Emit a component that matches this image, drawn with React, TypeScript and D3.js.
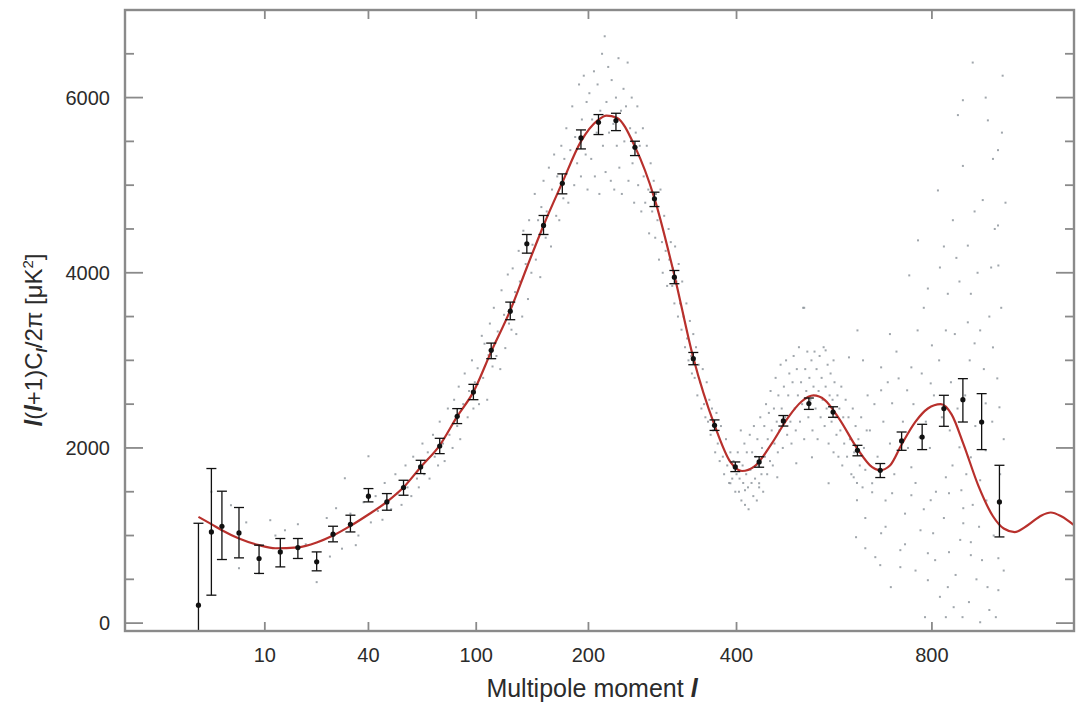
import React from "react";
import * as d3 from "d3";

// ---- data ----
const xTicks = [10, 40, 100, 200, 400, 800];
const yMajorTicks = [0, 2000, 4000, 6000];
const yMinorTicks = [500, 1000, 1500, 2500, 3000, 3500, 4500, 5000, 5500, 6500];

// theory curve (l, value)
const curveL = [2, 3, 4, 6, 9, 12, 17, 22, 27, 33, 40, 48, 56, 65, 76, 87, 98, 111, 126, 140, 155, 173, 192, 210, 220, 232, 254, 279, 306, 333, 365, 390, 409, 430, 460, 490, 515, 538, 560, 590, 628, 660, 677, 700, 727, 760, 790, 822, 850, 880, 920, 960, 990, 1021, 1060, 1100, 1128, 1160, 1200];
const curveV = [1213, 1130, 1061, 966, 890, 855, 865, 920, 1000, 1110, 1240, 1384, 1550, 1780, 2030, 2360, 2640, 3100, 3570, 4060, 4540, 5030, 5500, 5740, 5795, 5770, 5440, 4850, 3970, 3030, 2260, 1840, 1737, 1790, 2050, 2350, 2530, 2600, 2550, 2330, 1990, 1780, 1745, 1800, 2040, 2300, 2450, 2500, 2380, 2050, 1570, 1220, 1080, 1040, 1120, 1230, 1263, 1220, 1118];

// binned data points with error bars
const binL = [2, 3, 4, 6, 9, 13, 17, 22, 27, 33, 40, 48, 56, 65, 76, 87, 98, 111, 126, 140, 155, 173, 192, 211, 231, 254, 279, 306, 333, 365, 398, 438, 481, 529, 577, 628, 678, 727, 776, 830, 879, 929, 978];
const binV = [205, 1041, 1106, 1030, 738, 813, 863, 700, 1015, 1129, 1449, 1384, 1547, 1783, 2022, 2361, 2638, 3114, 3562, 4331, 4540, 5022, 5540, 5718, 5737, 5433, 4844, 3950, 3019, 2258, 1783, 1840, 2308, 2506, 2410, 1973, 1745, 2080, 2125, 2449, 2551, 2296, 1384];
const binHi = [1140, 1765, 1506, 1320, 890, 966, 966, 813, 1106, 1232, 1536, 1479, 1631, 1859, 2110, 2449, 2726, 3197, 3665, 4437, 4654, 5129, 5631, 5806, 5821, 5502, 4920, 4026, 3090, 2320, 1840, 1900, 2370, 2570, 2470, 2030, 1822, 2182, 2270, 2601, 2791, 2620, 1802];
const binLo = [-300, 319, 726, 745, 567, 642, 738, 597, 928, 1041, 1384, 1289, 1460, 1707, 1935, 2278, 2551, 3019, 3464, 4224, 4437, 4901, 5414, 5578, 5623, 5338, 4756, 3875, 2950, 2200, 1730, 1780, 2250, 2440, 2350, 1910, 1662, 1973, 1981, 2247, 2296, 1981, 984];

// unbinned individual multipoles (l, value)
const scatterLow: [number, number][] = [
  [5, 1346], [6, 627], [9, 570], [11, 1175], [17, 1129], [22, 468], [28, 1312], [31, 1654], [35, 890], [40, 1905],
  [3, 1500], [7, 1150], [12, 1000], [14, 1060], [19, 900], [25, 1200], [26, 760], [30, 850],
];
const scatterMid1: [number, number][] = [
  [33, 1250], [36, 1000], [38, 1380], [41, 1150], [43, 1450], [44, 1280], [46, 1180], [47, 1600], [49, 1400], [50, 1300],
  [52, 1700], [53, 1480], [55, 1350], [57, 1800], [58, 1550], [60, 1450], [61, 1900], [63, 1650], [64, 1550], [66, 2050],
  [67, 1700], [69, 1950], [70, 1650], [72, 2150], [73, 1900], [75, 1800], [76, 2300], [78, 2050], [79, 1850], [81, 2450],
  [82, 2150], [84, 2000], [85, 2550], [87, 2250], [88, 2700], [89, 2100], [91, 2500], [92, 2850], [94, 2350], [95, 2650],
  [97, 3000], [98, 2450], [99, 2750],
];
const scatterMid2: [number, number][] = [
  [101, 2910], [102, 2500], [104, 3280], [105, 2800], [106, 3190], [108, 2550], [109, 3060], [110, 3420], [112, 2930], [113, 3600],
  [115, 3050], [116, 3330], [118, 2900], [119, 3800], [121, 3520], [122, 3140], [124, 3980], [125, 3420], [127, 3350], [128, 4050],
  [130, 3780], [131, 3300], [133, 4250], [134, 3900], [136, 3500], [137, 4480], [139, 4100], [141, 3700], [142, 4600], [144, 4000],
  [145, 4320], [147, 4900], [148, 4150], [150, 4600], [152, 3950], [153, 4750], [155, 5050], [157, 4400], [158, 4700], [160, 5200],
  [162, 4300], [163, 4950], [165, 5350], [167, 4650], [168, 5100], [170, 4600], [172, 5450], [174, 4850], [175, 5300], [177, 5650],
  [179, 4800], [181, 5400], [183, 5900], [185, 5000], [186, 5550], [188, 5250], [190, 6150], [192, 5100], [193, 5750], [195, 6250],
  [197, 5350], [198, 5950], [199, 4950],
];
const scatterPeak: [number, number][] = [
  [201, 6050], [203, 5300], [204, 5750], [206, 6300], [207, 5100], [209, 5600], [210, 6150], [212, 4900], [213, 5850], [215, 6500],
  [216, 5450], [218, 6700], [219, 5150], [220, 5950], [222, 6350], [223, 5600], [225, 5050], [226, 6200], [228, 5700], [229, 4950],
  [231, 6000], [232, 5450], [234, 6450], [235, 5200], [237, 5850], [238, 4900], [240, 6100], [241, 5500], [243, 5900], [245, 6400],
  [246, 5050], [248, 5650], [250, 6000], [251, 5250], [253, 4800], [255, 5600], [257, 5900], [258, 5000], [260, 5450], [262, 4700],
  [264, 5650], [265, 5100], [267, 4800], [269, 5450], [271, 4950], [272, 4450], [274, 5250], [276, 4700], [278, 5050], [280, 4400],
  [281, 4900], [283, 4600], [285, 4150], [287, 4950], [289, 4350], [290, 4000], [292, 4650], [294, 4250], [296, 3850], [298, 4500],
  [299, 4150],
];
const scatterFall: [number, number][] = [
  [301, 4350], [303, 3850], [304, 4050], [306, 3650], [307, 4300], [309, 3900], [311, 3500], [312, 4100], [314, 3650], [316, 3350],
  [317, 3900], [319, 3500], [321, 3150], [323, 3650], [324, 3250], [326, 3000], [328, 3450], [330, 3050], [331, 2850], [333, 3300],
  [335, 2800], [337, 3150], [339, 2600], [341, 2950], [343, 2750], [345, 2450], [347, 2900], [349, 2500], [351, 2350], [353, 2750],
  [355, 2300], [357, 2550], [359, 2150], [361, 2450], [363, 2200], [366, 1950], [368, 2400], [370, 2050], [373, 1850], [375, 2250],
  [378, 1900], [380, 1700], [383, 2100], [385, 1800], [388, 1600], [390, 1950], [393, 1650], [395, 1850], [398, 1500], [400, 1700],
];
const scatterSecond: [number, number][] = [
  [402, 1950], [404, 1500], [405, 1650], [407, 2200], [408, 1400], [410, 1800], [411, 1600], [413, 2050], [414, 1350], [416, 1700],
  [417, 1950], [419, 1550], [420, 1300], [422, 2150], [423, 1750], [425, 1600], [426, 1950], [428, 1450], [429, 2250], [431, 1650],
  [432, 1900], [434, 1400], [435, 2100], [437, 1800], [438, 1550], [440, 2350], [442, 1700], [443, 2000], [445, 1500], [447, 2250],
  [448, 1900], [450, 2500], [452, 1700], [453, 2100], [455, 2400], [457, 1850], [458, 2650], [460, 2200], [462, 1800], [464, 2450],
  [465, 2050], [467, 2800], [469, 2300], [471, 1950], [472, 2600], [474, 2200], [476, 2950], [478, 2450], [480, 2000], [482, 2700],
  [484, 2350], [486, 3000], [488, 2150], [490, 2600], [492, 2850], [494, 2300], [496, 2050], [498, 2750], [500, 3050], [502, 2450],
  [504, 2200], [506, 2900], [508, 2600], [510, 3150], [512, 2300], [514, 2750], [516, 2500], [518, 3600], [520, 2100], [522, 2900],
  [524, 2650], [526, 3100], [528, 2350], [530, 2800], [532, 2550], [534, 3000], [536, 2200], [538, 2700], [540, 3100], [542, 2450],
  [544, 2900], [546, 2100], [548, 2650], [550, 3050], [552, 2350], [554, 2800], [556, 2550], [558, 3150], [560, 2250], [562, 2700],
  [564, 2450], [566, 2950], [568, 2050], [570, 2600], [572, 2850], [574, 2300], [576, 2550], [578, 1950], [580, 2750], [582, 2350],
  [584, 2150], [586, 2600], [588, 1900], [590, 2450], [592, 2200], [594, 2700], [596, 1800], [598, 2350], [600, 2050], [603, 2550],
  [606, 1900], [609, 2350], [612, 2100], [615, 1700], [618, 2450], [621, 1950], [624, 2250], [627, 1600], [630, 2100], [633, 1800],
  [636, 2350], [639, 1550], [642, 2000], [645, 1750], [648, 2200],
  [562, 3114], [578, 3000], [520, 3600], [610, 3034], [568, 1597], [535, 1893], [505, 1825], [470, 1665], [438, 1597], [414, 1517], [390, 1597],
];
const scatterHigh: [number, number][] = [
  [627, 1403], [660, 1494], [705, 1483], [750, 1460], [797, 1403], [843, 1483], [880, 1312], [645, 855], [667, 753], [678, 662],
  [724, 833], [702, 411], [790, 490], [840, 411], [855, 182], [878, 68], [925, 10], [968, 68], [945, 411], [975, 376],
  [895, 240], [835, 68], [783, 68], [808, 719], [843, 810], [724, 639], [790, 798], [900, 776], [930, 719], [975, 741],
  [900, 924], [880, 1140], [803, 1026], [772, 1060], [680, 1026], [625, 981],
  [745, 3970], [790, 3820], [820, 4060], [840, 3760], [862, 4170], [900, 3760], [955, 4060], [975, 4083], [892, 3434], [925, 3342],
  [960, 3148], [972, 2794], [940, 2509], [978, 2464], [910, 3194], [765, 3342], [800, 3171], [835, 3342], [750, 2920], [720, 2794],
  [680, 2920], [640, 3000], [628, 3342], [680, 2658], [705, 2510], [740, 2658], [797, 2737], [770, 2120], [845, 2200], [870, 2007],
  [900, 1893], [940, 1973], [925, 1631], [875, 1517], [835, 1665], [750, 1779], [660, 1597], [620, 1665],
  [905, 6400], [987, 6250], [866, 5800], [946, 5740], [974, 5400], [879, 5220], [815, 4940], [932, 4830], [853, 4600], [974, 4540],
  [766, 4370], [892, 4310], [879, 5970],
  [655, 2200], [665, 2500], [672, 1900], [685, 2300], [690, 1400], [695, 2750], [700, 2050], [710, 1700], [715, 3100], [730, 2300],
  [735, 1250], [742, 2000], [755, 2500], [760, 1600], [775, 2850], [780, 1300], [785, 2300], [795, 2000], [805, 2600], [810, 1500],
  [818, 3000], [825, 2350], [830, 1200], [848, 2750], [852, 1800], [858, 3300], [865, 2450], [872, 950], [885, 2600], [888, 1700],
  [897, 3000], [905, 1350], [912, 2250], [918, 4000], [922, 1100], [935, 2900], [942, 1400], [950, 3500], [958, 2300], [962, 1000],
  [965, 4500], [980, 1700], [983, 3600], [990, 2100], [995, 4800], [960, 5300], [940, 6000], [985, 5600], [910, 4700], [870, 3900],
  [830, 4300], [780, 3600], [700, 3300], [650, 2600], [645, 1200], [690, 1100], [735, 900], [760, 600], [820, 300], [860, 550],
  [915, 500], [950, 150], [990, 600],
];

const scatter = [...scatterLow, ...scatterMid1, ...scatterMid2, ...scatterPeak, ...scatterFall, ...scatterSecond, ...scatterHigh];

export default function App() {
  const W = 1080, H = 718;
  const x = d3.scalePow().exponent(0.4).domain([0, 1200]).range([125, 1074]);
  const y = d3.scaleLinear().domain([-90, 7000]).range([631, 10]);
  const [x0, x1] = x.range();
  const [y0, y1] = y.range();

  const line = d3.line<[number, number]>()
    .x((d) => x(d[0]))
    .y((d) => y(d[1]))
    .curve(d3.curveMonotoneX);
  const curvePts = curveL.map((l, i) => [l, curveV[i]] as [number, number]);

  const frame = "#8a8a8a";
  const txt = "#2b2b2b";
  const font = "Liberation Sans, Arial, Helvetica, sans-serif";

  return (
    <svg width={W} height={H} style={{ position: "absolute", left: 0, top: 0, background: "#fff" }} fontFamily={font}>
      <defs>
        <clipPath id="plotclip">
          <rect x={x0} y={y1} width={x1 - x0} height={y0 - y1} />
        </clipPath>
      </defs>
      <rect x={0} y={0} width={W} height={H} fill="#fff" />

      {/* scatter */}
      <g clipPath="url(#plotclip)">
        {scatter.map((d, i) => (
          <rect key={i} x={x(d[0]) - 1} y={y(d[1]) - 1} width={2} height={2} fill="#8f969e" opacity={0.85} />
        ))}
      </g>

      {/* theory curve */}
      <g clipPath="url(#plotclip)">
        <path d={line(curvePts) || ""} fill="none" stroke="#b8302c" strokeWidth={2.2} />
      </g>

      {/* binned points */}
      <g clipPath="url(#plotclip)" stroke="#111" strokeWidth={1.3}>
        {binL.map((l, i) => {
          const cx = x(l);
          const capW = 5;
          return (
            <g key={i}>
              <line x1={cx} x2={cx} y1={y(binHi[i])} y2={y(binLo[i])} />
              <line x1={cx - capW} x2={cx + capW} y1={y(binHi[i])} y2={y(binHi[i])} />
              <line x1={cx - capW} x2={cx + capW} y1={y(binLo[i])} y2={y(binLo[i])} />
              <circle cx={cx} cy={y(binV[i])} r={2.6} fill="#111" stroke="none" />
            </g>
          );
        })}
      </g>

      {/* frame */}
      <rect x={x0} y={y1} width={x1 - x0} height={y0 - y1} fill="none" stroke={frame} strokeWidth={2.4} />

      {/* ticks */}
      <g stroke={frame} strokeWidth={1.8}>
        {yMajorTicks.map((v) => (
          <g key={"M" + v}>
            <line x1={x0} x2={x0 + 18} y1={y(v)} y2={y(v)} />
            <line x1={x1} x2={x1 - 18} y1={y(v)} y2={y(v)} />
          </g>
        ))}
        {yMinorTicks.map((v) => (
          <g key={"m" + v}>
            <line x1={x0} x2={x0 + 9} y1={y(v)} y2={y(v)} />
            <line x1={x1} x2={x1 - 9} y1={y(v)} y2={y(v)} />
          </g>
        ))}
        {xTicks.map((t) => (
          <g key={"x" + t}>
            <line x1={x(t)} x2={x(t)} y1={y0} y2={y0 - 9} />
            <line x1={x(t)} x2={x(t)} y1={y1} y2={y1 + 9} />
          </g>
        ))}
      </g>

      {/* tick labels */}
      <g fill={txt} fontSize={20}>
        {yMajorTicks.map((v) => (
          <text key={v} x={110} y={y(v)} dy="0.36em" textAnchor="end">{v}</text>
        ))}
        {xTicks.map((t) => (
          <text key={t} x={x(t)} y={662} textAnchor="middle">{t}</text>
        ))}
      </g>

      {/* axis titles */}
      <text x={592} y={697} textAnchor="middle" fontSize={25} fill={txt}>
        Multipole moment <tspan fontStyle="italic" fontWeight="bold">l</tspan>
      </text>
      <text transform="translate(42,340) rotate(-90)" textAnchor="middle" fontSize={24} fill={txt}>
        <tspan fontStyle="italic" fontWeight="bold">l</tspan>(<tspan fontStyle="italic" fontWeight="bold">l</tspan>+1)C
        <tspan fontStyle="italic" fontWeight="bold" fontSize={15} dy={5}>l</tspan>
        <tspan dy={-5}>/2π [μK</tspan>
        <tspan fontSize={15} dy={-9}>2</tspan>
        <tspan dy={9}>]</tspan>
      </text>
    </svg>
  );
}
